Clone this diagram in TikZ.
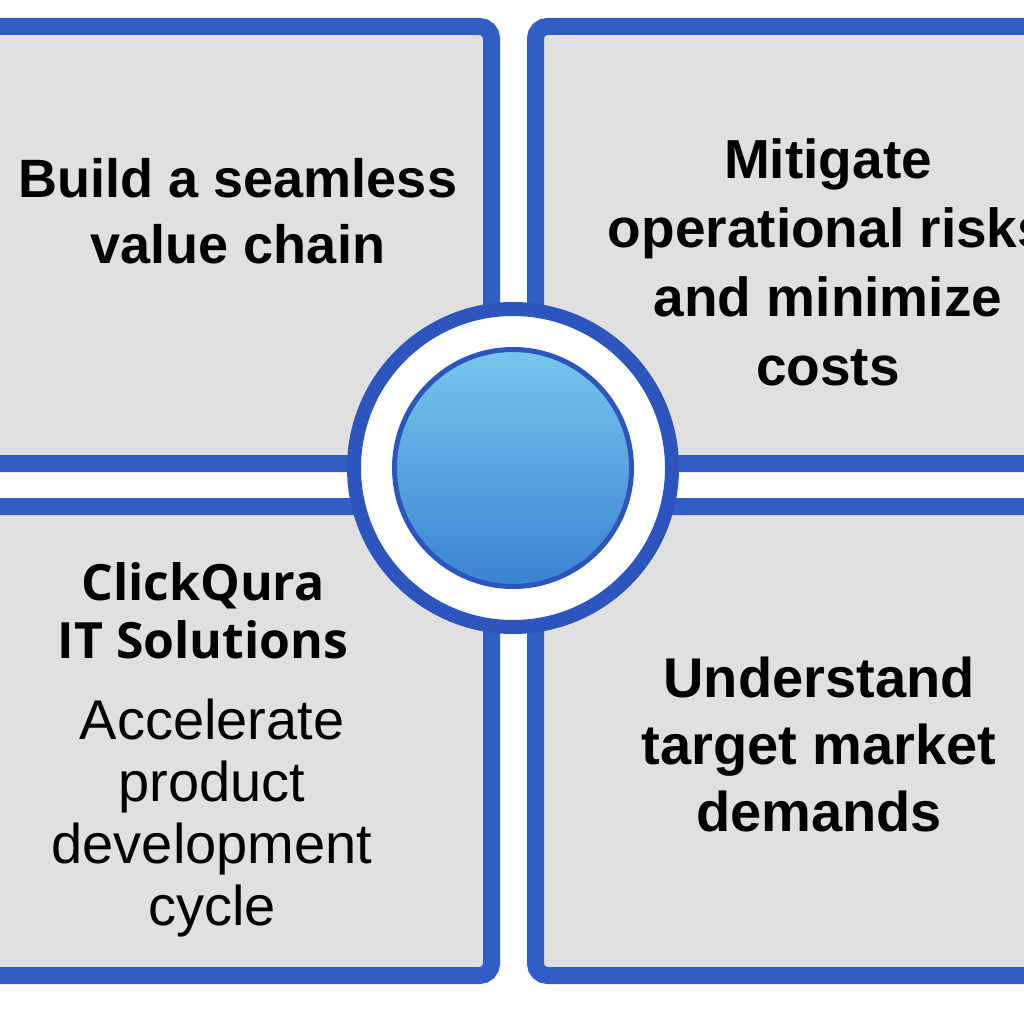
\documentclass[tikz,border=0pt]{standalone}
\usepackage{fontspec}
\setmainfont{Liberation Sans}
\newfontfamily\brandFont{Open Sans}
\definecolor{panelBlue}{RGB}{48,94,196}
\definecolor{ringBlue}{RGB}{44,86,190}
\definecolor{panelGray}{RGB}{224,224,224}
\definecolor{discTop}{RGB}{120,198,238}
\definecolor{discBottom}{RGB}{58,130,208}

\begin{document}
\begin{tikzpicture}[x=1pt, y=-1pt]

	% frame of the page
	\useasboundingbox (0,0) rectangle (1024,1024);
	\tikzset{
		stylePanel/.style={
			draw=panelBlue, fill=panelGray, line width=17pt,
			rounded corners=12pt, inner sep=0pt
		},	% the four boxes
		styleText/.style={
			align=center, text=black, inner sep=0pt
		}
	};

	% the four panels
	\foreach \panelName/\cx/\cy/\w/\h in {
			pTL/225.75/245/531.5/437, pTR/802.75/245/534.5/437,
			pBL/225.75/741/531.5/469, pBR/802.75/741/534.5/469} {
		\node [stylePanel, minimum width=\w pt, minimum height=\h pt]
			(\panelName) at (\cx,\cy) {};
	}

	% ring and disc in the middle
	\coordinate (hub) at (513,468);
	\fill [white] (hub) circle (159);
	\draw [ringBlue, line width=14pt] (hub) circle (159);
	\shade [top color=discTop, bottom color=discBottom] (hub) circle (118.5);
	\draw [ringBlue, line width=5pt] (hub) circle (118.5);

	% texts
	\node [styleText, font=\bfseries\fontsize{54}{66}\selectfont]
		(tValue) at (238,211) {Build a seamless\\value chain};
	\node [styleText, font=\bfseries\fontsize{55}{69}\selectfont]
		(tRisk) at (828,262) {Mitigate\\operational risks\\and minimize\\costs};
	\node [styleText, font=\bfseries\fontsize{56}{67}\selectfont]
		(tMarket) at (819,744) {Understand\\target market\\demands};
	\node [styleText, font=\brandFont\bfseries\fontsize{50}{58}\selectfont]
		(tBrand) at (203,611) {ClickQura\\IT Solutions};
	\node [styleText, font=\fontsize{56}{62}\selectfont]
		(tCycle) at (212,818) {Accelerate\\product\\development\\cycle};

\end{tikzpicture}
\end{document}
